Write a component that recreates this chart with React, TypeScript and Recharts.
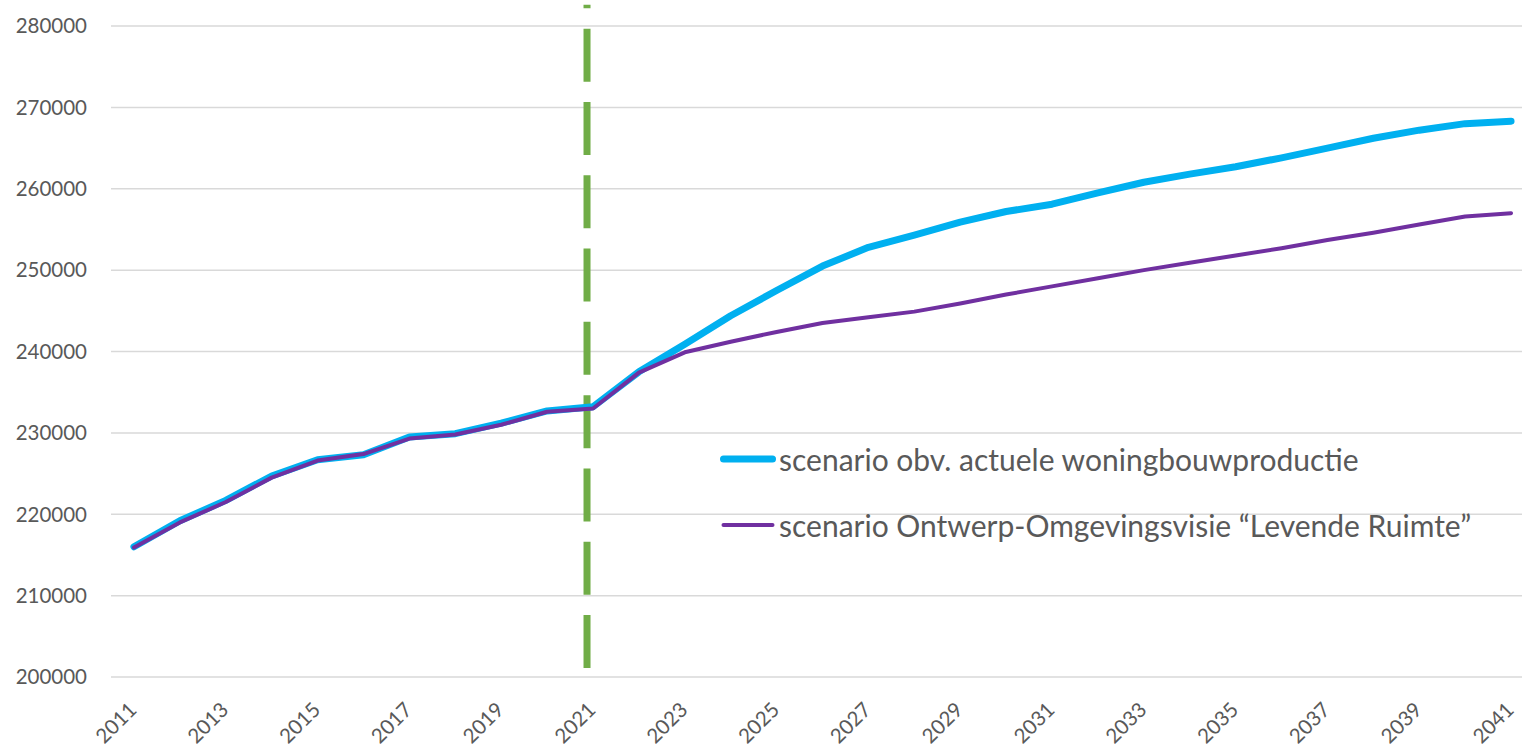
import React from 'react';
import { LineChart, Line, XAxis, YAxis, CartesianGrid, ReferenceLine, Legend } from 'recharts';

const years = [2011, 2012, 2013, 2014, 2015, 2016, 2017, 2018, 2019, 2020, 2021, 2022, 2023, 2024, 2025, 2026, 2027, 2028, 2029, 2030, 2031, 2032, 2033, 2034, 2035, 2036, 2037, 2038, 2039, 2040, 2041];

const actueel = [216000, 219200, 221700, 224700, 226700, 227300, 229500, 229900, 231200, 232700, 233200, 237500, 240900, 244400, 247500, 250500, 252800, 254300, 255900, 257200, 258100, 259500, 260800, 261800, 262700, 263800, 265000, 266200, 267200, 268000, 268300];

const levendeRuimte = [215900, 219000, 221500, 224500, 226600, 227400, 229300, 229800, 231000, 232600, 233000, 237400, 239900, 241200, 242400, 243500, 244200, 244900, 245900, 247000, 248000, 249000, 250000, 250900, 251800, 252700, 253700, 254600, 255600, 256600, 257000];

const seriesNames = ['scenario obv. actuele woningbouwproductie', 'scenario Ontwerp-Omgevingsvisie \u201cLevende Ruimte\u201d'];

const xTicks = [2011, 2013, 2015, 2017, 2019, 2021, 2023, 2025, 2027, 2029, 2031, 2033, 2035, 2037, 2039, 2041];
const yTicks = [200000, 210000, 220000, 230000, 240000, 250000, 260000, 270000, 280000];

const markerYear = 2020.87;
const markerFrom = 201100;
const markerTo = 282600;

const data = years.map((year, i) => ({ year, actueel: actueel[i], levende: levendeRuimte[i] }));

const FONT = 'Lato, "Open Sans", sans-serif';
const TEXT = '#595959';

const XTick = (props: any) => {
  const { x, y, payload } = props;
  return (
    <g transform={`translate(${x + 4},${y + 26})`}>
      <text textAnchor="end" transform="rotate(-45)" fill={TEXT} fontSize={20.5} fontFamily={FONT}>
        {payload.value}
      </text>
    </g>
  );
};

const renderLegend = (props: any) => {
  const payload: any[] = props.payload || [];
  const ordered = seriesNames
    .map((n) => payload.find((p: any) => p.value === n))
    .filter(Boolean);
  return (
    <div style={{ fontFamily: FONT, color: TEXT }}>
      {ordered.map((p: any, i: number) => (
        <div key={i} style={{ display: 'flex', alignItems: 'center', height: 40, marginBottom: i === 0 ? 26 : 0 }}>
          <svg width={62} height={12} style={{ display: 'block', flex: 'none' }}>
            <line x1={6.5} y1={6} x2={55.5} y2={6} stroke={p.color} strokeWidth={i === 0 ? 7 : 4} strokeLinecap="round" />
          </svg>
          <span style={{ fontSize: 30, whiteSpace: 'nowrap', lineHeight: '40px' }}>{p.value}</span>
        </div>
      ))}
    </div>
  );
};

export default function App() {
  return (
    <div style={{ position: 'absolute', left: 0, top: 0, width: 1522, height: 748, overflow: 'hidden', background: '#fff' }}>
      <LineChart width={1545} height={748} data={data} margin={{ top: 26, right: 11, left: 0, bottom: 0 }}>
        <CartesianGrid vertical={false} stroke="#D9D9D9" strokeWidth={1.5} />
        <XAxis
          dataKey="year"
          type="number"
          domain={[2010.5, 2041.5]}
          ticks={xTicks}
          interval={0}
          axisLine={false}
          tickLine={false}
          height={71}
          tick={<XTick />}
        />
        <YAxis
          domain={[200000, 280000]}
          ticks={yTicks}
          axisLine={false}
          tickLine={false}
          tickSize={0}
          tickMargin={24}
          width={111}
          tick={{ fill: TEXT, fontSize: 20.5, fontFamily: FONT }}
        />
        <ReferenceLine
          segment={[{ x: markerYear, y: markerFrom }, { x: markerYear, y: markerTo }]}
          stroke="#70AD47"
          strokeWidth={7}
          strokeDasharray="53 20.3"
          ifOverflow="visible"
        />
        <Line
          type="linear"
          dataKey="actueel"
          name={seriesNames[0]}
          stroke="#00B0F0"
          strokeWidth={7}
          dot={false}
          strokeLinecap="round"
          strokeLinejoin="round"
          isAnimationActive={false}
        />
        <Line
          type="linear"
          dataKey="levende"
          name={seriesNames[1]}
          stroke="#7030A0"
          strokeWidth={4}
          dot={false}
          strokeLinecap="round"
          strokeLinejoin="round"
          isAnimationActive={false}
        />
        <Legend
          content={renderLegend}
          layout="horizontal"
          verticalAlign="middle"
          align="center"
          wrapperStyle={{ position: 'absolute', left: 717, top: 439, width: 'auto' }}
        />
      </LineChart>
    </div>
  );
}
